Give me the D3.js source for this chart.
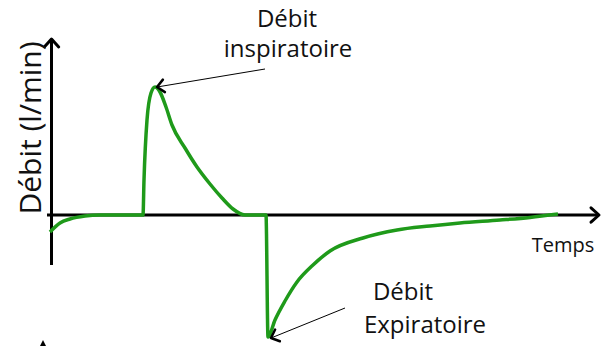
<!DOCTYPE html>
<html>
<head>
<meta charset="utf-8">
<script src="https://cdn.jsdelivr.net/npm/d3@7"></script>
<style>
  body { margin: 0; background: #fff; }
  svg text { font-family: "Open Sans", sans-serif; fill: #111; }
</style>
</head>
<body>
<svg id="chart"></svg>
<script>
// Flow curve, time (s) vs flow (l/min)
const times = [0, 0.1, 0.2, 0.35, 0.5, 0.9, 0.93, 0.94, 0.97, 1.01, 1.05,
    1.10, 1.16, 1.22, 1.35, 1.47, 1.60, 1.72, 1.83, 1.95, 2.16,
    2.18, 2.25, 2.35, 2.47, 2.63, 2.80, 3.13, 3.47, 3.80, 4.10, 4.50, 4.80, 5.08];
const flows = [-8.5, -4, -2, -0.5, 0, 0, 0, 17.5, 47.5, 61, 64,
    61.5, 54, 45, 33.5, 24, 15.5, 8.5, 3, 0, 0,
    -61, -52.5, -43, -33.5, -25, -18, -11.5, -7.5, -5.5, -4, -2.5, -1.2, 0.5];

const annotations = [
    { lines: ['Débit', 'inspiratoire'], t: 1.05, v: 64 },
    { lines: ['Débit', 'Expiratoire'], t: 2.18, v: -61 }
];
const xLabel = 'Temps';
const yLabel = 'Débit (l/min)';

const width = 602, height = 346;
const svg = d3.select('#chart').attr('width', width).attr('height', height);

const x = d3.scaleLinear().domain([0, 5.5]).range([50, 600]);
const y = d3.scaleLinear().domain([-70, 70]).range([355, 75]);

const green = '#1f9a1a';

// Chevron arrow heads
function chevron(g, tx, ty, angle, size, sw) {
    g.append('path')
        .attr('d', `M${-size},${-size * 0.9} L0,0 L${-size},${size * 0.9}`)
        .attr('transform', `translate(${tx},${ty}) rotate(${angle})`)
        .attr('fill', 'none')
        .attr('stroke', '#000')
        .attr('stroke-width', sw)
        .attr('stroke-linecap', 'round')
        .attr('stroke-linejoin', 'round');
}

// Axes
const axes = svg.append('g');
axes.append('line')
    .attr('x1', x(0) - 3).attr('x2', x(5.5) - 1)
    .attr('y1', y(0)).attr('y2', y(0))
    .attr('stroke', '#000').attr('stroke-width', 3);
chevron(axes, x(5.5) - 1, y(0), 0, 8, 3);

axes.append('line')
    .attr('x1', x(0) + 1.5).attr('x2', x(0) + 1.5)
    .attr('y1', 265).attr('y2', 40)
    .attr('stroke', '#000').attr('stroke-width', 3);
chevron(axes, x(0) + 1.5, 39, -90, 8, 3);

// Curve
const line = d3.line()
    .x((d, i) => x(times[i]))
    .y(d => y(d))
    .curve(d3.curveMonotoneX);

svg.append('path')
    .datum(flows)
    .attr('d', line)
    .attr('fill', 'none')
    .attr('stroke', green)
    .attr('stroke-width', 3.5)
    .attr('stroke-linejoin', 'round');

// Labels
svg.append('text')
    .attr('x', 563).attr('y', 252)
    .attr('text-anchor', 'middle')
    .style('font-size', '20px')
    .text(xLabel);

svg.append('text')
    .attr('transform', 'translate(41,128) rotate(-90)')
    .attr('text-anchor', 'middle')
    .style('font-size', '30px')
    .text(yLabel);

// Annotations
const ann = svg.append('g');
const a1 = annotations[0], a2 = annotations[1];
ann.append('text').attr('x', 287).attr('y', 27).attr('text-anchor', 'middle')
    .style('font-size', '24px').text(a1.lines[0]);
ann.append('text').attr('x', 288).attr('y', 57).attr('text-anchor', 'middle')
    .style('font-size', '24px').text(a1.lines[1]);
ann.append('line')
    .attr('x1', 265).attr('y1', 69)
    .attr('x2', x(a1.t) + 2).attr('y2', y(a1.v))
    .attr('stroke', '#000').attr('stroke-width', 1);
chevron(ann, x(a1.t) + 2, y(a1.v), 180 + Math.atan2(69 - y(a1.v), 265 - x(a1.t)) * 180 / Math.PI, 7, 2.5);

ann.append('text').attr('x', 403).attr('y', 300).attr('text-anchor', 'middle')
    .style('font-size', '24px').text(a2.lines[0]);
ann.append('text').attr('x', 425).attr('y', 333).attr('text-anchor', 'middle')
    .style('font-size', '24px').text(a2.lines[1]);
ann.append('line')
    .attr('x1', 345).attr('y1', 308)
    .attr('x2', x(a2.t) + 3).attr('y2', y(a2.v) + 1)
    .attr('stroke', '#000').attr('stroke-width', 1);
chevron(ann, x(a2.t) + 3, y(a2.v) + 1, 180 + Math.atan2(308 - y(a2.v) - 1, 345 - x(a2.t) - 3) * 180 / Math.PI, 7, 2.5);

// Cut-off arrow tip at the bottom left
svg.append('path')
    .attr('d', 'M43,340 L40,346 L46,346 Z')
    .attr('fill', '#000');
</script>
</body>
</html>
